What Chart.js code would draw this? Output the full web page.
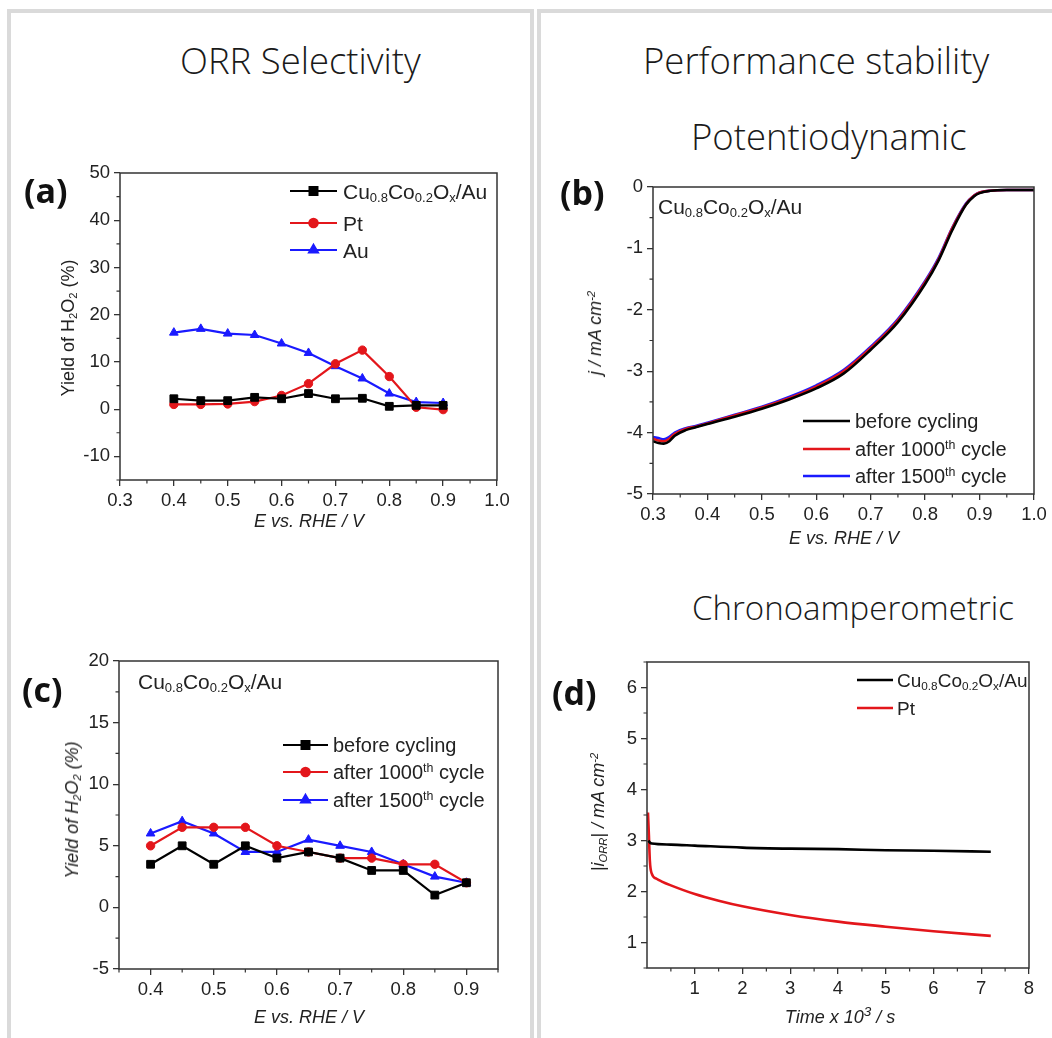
<!DOCTYPE html>
<html>
<head>
<meta charset="utf-8">
<script src="https://cdn.jsdelivr.net/npm/chart.js@4.4.1/dist/chart.umd.min.js"></script>
<style>
  html, body { margin: 0; padding: 0; background: #fff; }
  body { width: 1052px; height: 1038px; position: relative; overflow: hidden; font-family: "Liberation Sans", Arial, sans-serif; color: #222; }
  .box { position: absolute; top: 9px; height: 1100px; border: 4px solid #dadada; border-bottom: none; box-sizing: border-box; }
  .head { position: absolute; font-family: "Open Sans", sans-serif; font-weight: 300; font-size: 36.5px; line-height: 1; color: #1a1a1a; white-space: nowrap; }
  .tag { position: absolute; font-family: "Open Sans", sans-serif; font-weight: 700; font-size: 34px; line-height: 1; transform: translateY(-50%); color: #111; }
  canvas { position: absolute; }
  .txt { position: absolute; line-height: 1; white-space: nowrap; transform: translateY(-50%); color: #222; }
  .ctr { position: absolute; line-height: 1; white-space: nowrap; transform: translate(-50%, -50%); font-size: 18px; color: #222; }
  .rot { transform: translate(-50%, -50%) rotate(-90deg); }
  .it { font-style: italic; }
  sub, sup { font-size: 0.62em; line-height: 0; }
  sub { vertical-align: -0.3em; }
  sup { vertical-align: 0.55em; }
</style>
</head>
<body>
<div class="box" style="left:7px; width:527px;"></div>
<div class="box" style="left:537px; width:600px;"></div>

<div class="head" style="left:180px; top:42px;">ORR Selectivity</div>
<div class="head" style="left:643px; top:42px;">Performance stability</div>
<div class="head" style="left:691px; top:118px;">Potentiodynamic</div>
<div class="head" style="left:692px; top:591px; font-size:33px;">Chronoamperometric</div>

<canvas id="chartA"></canvas>
<canvas id="chartB"></canvas>
<canvas id="chartC"></canvas>
<canvas id="chartD"></canvas>

<!-- panel (a) -->
<div class="tag" style="left:24px; top:190px;">(a)</div>
<div class="txt" style="left:343px; top:191px; font-size:21px;">Cu<sub>0.8</sub>Co<sub>0.2</sub>O<sub>x</sub>/Au</div>
<div class="txt" style="left:343px; top:223px; font-size:21px;">Pt</div>
<div class="txt" style="left:343px; top:250px; font-size:21px;">Au</div>
<div class="ctr it" style="left:309px; top:521px;">E vs. RHE / V</div>
<div class="ctr rot" style="left:68px; top:328px;">Yield of H<sub>2</sub>O<sub>2</sub> (%)</div>

<!-- panel (b) -->
<div class="tag" style="left:560px; top:192px;">(b)</div>
<div class="txt" style="left:658px; top:206px; font-size:21px;">Cu<sub>0.8</sub>Co<sub>0.2</sub>O<sub>x</sub>/Au</div>
<div class="txt" style="left:855px; top:421px; font-size:20px;">before cycling</div>
<div class="txt" style="left:855px; top:449px; font-size:20px;">after 1000<sup>th</sup> cycle</div>
<div class="txt" style="left:855px; top:476px; font-size:20px;">after 1500<sup>th</sup> cycle</div>
<div class="ctr it" style="left:844px; top:538px;">E vs. RHE / V</div>
<div class="ctr rot it" style="left:595px; top:333px;">j / mA cm<sup>-2</sup></div>

<!-- panel (c) -->
<div class="tag" style="left:22px; top:689px;">(c)</div>
<div class="txt" style="left:138px; top:681px; font-size:21px;">Cu<sub>0.8</sub>Co<sub>0.2</sub>O<sub>x</sub>/Au</div>
<div class="txt" style="left:333px; top:745px; font-size:20px;">before cycling</div>
<div class="txt" style="left:333px; top:772px; font-size:20px;">after 1000<sup>th</sup> cycle</div>
<div class="txt" style="left:333px; top:800px; font-size:20px;">after 1500<sup>th</sup> cycle</div>
<div class="ctr it" style="left:309px; top:1017px;">E vs. RHE / V</div>
<div class="ctr rot it" style="left:72px; top:810px;">Yield of H<sub>2</sub>O<sub>2</sub> (%)</div>

<!-- panel (d) -->
<div class="tag" style="left:552px; top:692px;">(d)</div>
<div class="txt" style="left:897px; top:680px; font-size:19px;">Cu<sub>0.8</sub>Co<sub>0.2</sub>O<sub>x</sub>/Au</div>
<div class="txt" style="left:897px; top:708px; font-size:19px;">Pt</div>
<div class="ctr it" style="left:840px; top:1017px;">Time x 10<sup style="font-size:0.75em">3</sup> / s</div>
<div class="ctr rot it" style="left:598px; top:812px;">|i<sub>ORR</sub>| / mA cm<sup>-2</sup></div>

<script>
// ---------- data ----------
// (a) ORR selectivity, yield of H2O2 (%)
const potA = [0.40, 0.45, 0.50, 0.55, 0.60, 0.65, 0.70, 0.75, 0.80, 0.85, 0.90];
const yieldCuCo = [2.2, 1.8, 1.8, 2.5, 2.2, 3.3, 2.2, 2.3, 0.6, 0.8, 0.8];
const yieldPt = [1.0, 1.0, 1.1, 1.6, 2.9, 5.4, 9.6, 12.5, 6.9, 0.4, -0.1];
const yieldAu = [16.2, 17.0, 16.0, 15.7, 13.9, 11.9, 9.1, 6.5, 3.3, 1.5, 1.3];

// (b) potentiodynamic, j / mA cm-2
const potB = [0.30, 0.31, 0.32, 0.33, 0.34, 0.36, 0.38, 0.40, 0.45, 0.50, 0.55, 0.60, 0.65, 0.70, 0.75, 0.80, 0.825, 0.85, 0.875, 0.89, 0.90, 0.92, 0.95, 1.00];
const jBefore = [-4.14, -4.17, -4.18, -4.14, -4.05, -3.96, -3.91, -3.86, -3.74, -3.61, -3.46, -3.28, -3.04, -2.65, -2.20, -1.58, -1.19, -0.70, -0.29, -0.15, -0.10, -0.06, -0.05, -0.05];
const j1000 = [-4.10, -4.13, -4.14, -4.10, -4.02, -3.94, -3.90, -3.85, -3.72, -3.59, -3.44, -3.25, -3.00, -2.62, -2.17, -1.55, -1.17, -0.67, -0.28, -0.14, -0.09, -0.06, -0.05, -0.05];
const j1500 = [-4.07, -4.09, -4.11, -4.07, -4.00, -3.93, -3.89, -3.84, -3.71, -3.58, -3.42, -3.23, -2.98, -2.60, -2.15, -1.53, -1.15, -0.66, -0.27, -0.14, -0.09, -0.06, -0.05, -0.05];

// (c) H2O2 yield of Cu0.8Co0.2Ox/Au after cycling
const potC = [0.40, 0.45, 0.50, 0.55, 0.60, 0.65, 0.70, 0.75, 0.80, 0.85, 0.90];
const yBefore = [3.5, 5.0, 3.5, 5.0, 4.0, 4.5, 4.0, 3.0, 3.0, 1.0, 2.0];
const y1000 = [5.0, 6.5, 6.5, 6.5, 5.0, 4.5, 4.0, 4.0, 3.5, 3.5, 2.0];
const y1500 = [6.0, 7.0, 6.0, 4.5, 4.5, 5.5, 5.0, 4.5, 3.5, 2.5, 2.0];

// (d) chronoamperometric, |i_ORR| / mA cm-2 vs time (10^3 s)
const timeCuCo = [0.03, 0.06, 0.1, 0.5, 1, 2, 3, 4, 5, 6, 7.2];
const iCuCo = [3.0, 2.96, 2.94, 2.92, 2.9, 2.86, 2.84, 2.83, 2.81, 2.8, 2.78];
const timePt = [0.02, 0.04, 0.06, 0.1, 0.2, 0.3, 0.5, 1, 1.5, 2, 3, 4, 5, 6, 7.2];
const iPt = [3.55, 3.1, 2.6, 2.35, 2.25, 2.2, 2.12, 1.95, 1.82, 1.71, 1.54, 1.41, 1.31, 1.22, 1.13];

// tick labels
const ticksAx = [0.3, 0.4, 0.5, 0.6, 0.7, 0.8, 0.9, 1.0];
const ticksAy = [-10, 0, 10, 20, 30, 40, 50];
const ticksBx = [0.3, 0.4, 0.5, 0.6, 0.7, 0.8, 0.9, 1.0];
const ticksBy = [-5, -4, -3, -2, -1, 0];
const ticksCx = [0.4, 0.5, 0.6, 0.7, 0.8, 0.9];
const ticksCy = [-5, 0, 5, 10, 15, 20];
const ticksDx = [1, 2, 3, 4, 5, 6, 7, 8];
const ticksDy = [1, 2, 3, 4, 5, 6];

const BLACK = "#000000";
const RED = "#e3161b";
const BLUE = "#1a1aff";
const axisColor = "#333333";

// room around the plot area inside each canvas
const padL = 100, padT = 30, padR = 30, padB = 70;

const pts = (xs, ys) => xs.map((x, i) => ({ x: x, y: ys[i] }));

// frame round the plot + short minor ticks half way between the majors
const framePlugin = {
    id: "frame",
    afterDraw(chart) {
        const { ctx, chartArea: a } = chart;
        ctx.save();
        ctx.strokeStyle = axisColor;
        ctx.lineWidth = 1.5;
        ctx.strokeRect(a.left, a.top, a.right - a.left, a.bottom - a.top);

        ["x", "y"].forEach((id) => {
            const s = chart.scales[id];
            const t = s.ticks.map((k) => k.value);
            if (t.length < 2) return;
            const step = t[1] - t[0];
            ctx.beginPath();
            for (let v = t[0] - step / 2; v <= s.max + 1e-9; v += step) {
                if (v < s.min - 1e-9) continue;
                const p = s.getPixelForValue(v);
                if (id === "x") { ctx.moveTo(p, a.bottom); ctx.lineTo(p, a.bottom + 3.5); }
                else { ctx.moveTo(a.left, p); ctx.lineTo(a.left - 3.5, p); }
            }
            ctx.lineWidth = 1.2;
            ctx.stroke();
        });
        ctx.restore();
    }
};

// legend samples (line + marker) drawn with the datasets' own style
const samplePlugin = {
    id: "samples",
    afterDraw(chart, args, opts) {
        if (!opts.rows) return;
        const ctx = chart.ctx;
        ctx.save();
        chart.data.datasets.forEach((ds, i) => {
            const y = opts.rows[i];
            ctx.strokeStyle = ds.borderColor;
            ctx.fillStyle = ds.borderColor;
            ctx.lineWidth = ds.borderWidth;
            ctx.beginPath();
            ctx.moveTo(opts.x1, y);
            ctx.lineTo(opts.x2, y);
            ctx.stroke();
            if (ds.pointRadius > 0) {
                Chart.helpers.drawPoint(ctx, { pointStyle: ds.pointStyle, radius: ds.pointRadius, rotation: 0, borderWidth: 1 }, (opts.x1 + opts.x2) / 2, y);
            }
        });
        ctx.restore();
    }
};

function axis(isX, min, max, tickList, fmt) {
    return {
        type: "linear",
        min: min,
        max: max,
        afterBuildTicks: (s) => { s.ticks = tickList.map((v) => ({ value: v })); },
        afterFit: (s) => { if (isX) s.height = padB; else s.width = padL; },
        grid: { drawOnChartArea: false, drawTicks: true, tickLength: 6, color: axisColor, lineWidth: 1.3 },
        border: { display: false },
        ticks: {
            color: "#222",
            font: { family: "'Liberation Sans', Arial, sans-serif", size: 18.5 },
            padding: 4,
            maxRotation: 0,
            autoSkip: false,
            callback: fmt
        }
    };
}

// area = plot box in page pixels, legend = page pixel positions of the samples
function makePanel(id, area, datasets, xAxis, yAxis, legend) {
    const canvas = document.getElementById(id);
    const left = area.l - padL, top = area.t - padT;
    canvas.width = area.r - area.l + padL + padR;
    canvas.height = area.b - area.t + padT + padB;
    canvas.style.left = left + "px";
    canvas.style.top = top + "px";

    return new Chart(canvas, {
        type: "line",
        data: { datasets: datasets },
        options: {
            responsive: false,
            animation: false,
            devicePixelRatio: 1,
            layout: { padding: { left: 0, top: padT, right: padR, bottom: 0 } },
            scales: { x: xAxis, y: yAxis },
            plugins: {
                legend: { display: false },
                tooltip: { enabled: false },
                samples: {
                    x1: legend.x1 - left,
                    x2: legend.x2 - left,
                    rows: legend.rows.map((r) => r - top)
                }
            }
        },
        plugins: [framePlugin, samplePlugin]
    });
}

const markerSize = { rect: 5.5, circle: 4.2, triangle: 5 };

function marked(label, xs, ys, color, style) {
    return {
        label: label,
        data: pts(xs, ys),
        borderColor: color,
        backgroundColor: color,
        borderWidth: 2.2,
        pointStyle: style,
        pointRadius: markerSize[style],
        pointBorderWidth: 1,
        pointBackgroundColor: color,
        tension: 0
    };
}

function curve(label, xs, ys, color) {
    return {
        label: label,
        data: pts(xs, ys),
        borderColor: color,
        backgroundColor: color,
        borderWidth: 2.6,
        pointRadius: 0,
        cubicInterpolationMode: "monotone"
    };
}

const oneDec = (v) => v.toFixed(1);
const noDec = (v) => String(Math.round(v));

makePanel("chartA", { l: 120, t: 173, r: 497, b: 480 },
    [
        marked("Cu0.8Co0.2Ox/Au", potA, yieldCuCo, BLACK, "rect"),
        marked("Pt", potA, yieldPt, RED, "circle"),
        marked("Au", potA, yieldAu, BLUE, "triangle")
    ],
    axis(true, 0.3, 1.0, ticksAx, oneDec),
    axis(false, -15, 50, ticksAy, noDec),
    { x1: 290, x2: 337, rows: [191, 223, 250] });

makePanel("chartB", { l: 653, t: 187, r: 1034, b: 494 },
    [
        curve("before cycling", potB, jBefore, BLACK),
        curve("after 1000th cycle", potB, j1000, RED),
        curve("after 1500th cycle", potB, j1500, BLUE)
    ],
    axis(true, 0.3, 1.0, ticksBx, oneDec),
    axis(false, -5, 0, ticksBy, noDec),
    { x1: 803, x2: 850, rows: [421, 449, 476] });

makePanel("chartC", { l: 119, t: 661, r: 498, b: 969 },
    [
        marked("before cycling", potC, yBefore, BLACK, "rect"),
        marked("after 1000th cycle", potC, y1000, RED, "circle"),
        marked("after 1500th cycle", potC, y1500, BLUE, "triangle")
    ],
    axis(true, 0.35, 0.95, ticksCx, oneDec),
    axis(false, -5, 20, ticksCy, noDec),
    { x1: 283, x2: 328, rows: [745, 772, 800] });

makePanel("chartD", { l: 647, t: 662, r: 1029, b: 968 },
    [
        curve("Cu0.8Co0.2Ox/Au", timeCuCo, iCuCo, BLACK),
        curve("Pt", timePt, iPt, RED)
    ],
    axis(true, 0, 8, ticksDx, noDec),
    axis(false, 0.5, 6.5, ticksDy, noDec),
    { x1: 857, x2: 893, rows: [680, 708] });
</script>
</body>
</html>
